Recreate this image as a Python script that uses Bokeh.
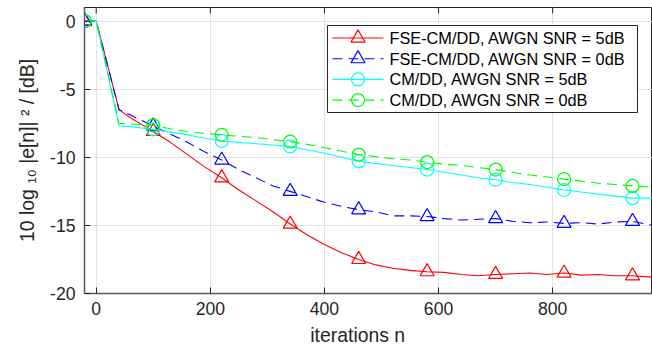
from bokeh.plotting import figure
from bokeh.models import Range1d, FixedTicker
from bokeh.core.properties import value
from bokeh.embed import file_html
from bokeh.resources import INLINE

# iteration index
n = [-20, 0, 40, 60, 80, 100, 130, 160, 190, 220, 250, 280, 310, 340, 370, 400,
     430, 460, 490, 520, 550, 580, 610, 640, 670, 700, 730, 760, 790, 820, 850,
     880, 910, 940, 975]

fse_5db = [0, 0, -6.5, -7.1, -7.6, -8.1, -8.9, -9.8, -10.7, -11.5, -12.4, -13.2,
           -14.0, -14.9, -15.7, -16.4, -17.0, -17.5, -17.9, -18.15, -18.3, -18.4,
           -18.45, -18.6, -18.7, -18.6, -18.55, -18.5, -18.6, -18.5, -18.65,
           -18.6, -18.7, -18.7, -18.8]
fse_0db = [0, 0, -6.5, -6.9, -7.3, -7.7, -8.3, -8.9, -9.6, -10.2, -10.9, -11.5,
           -12.1, -12.5, -12.9, -13.3, -13.6, -13.85, -14.0, -14.3, -14.3,
           -14.35, -14.5, -14.6, -14.55, -14.5, -14.7, -14.8, -14.75, -14.85,
           -14.8, -14.9, -14.75, -14.7, -15.0]
cm_5db = [0, 0, -7.7, -7.75, -7.85, -7.95, -8.15, -8.35, -8.6, -8.8, -8.9, -9.0,
          -9.1, -9.2, -9.45, -9.7, -10.0, -10.3, -10.45, -10.6, -10.75, -10.9,
          -11.1, -11.3, -11.5, -11.65, -11.85, -12.0, -12.2, -12.4, -12.55,
          -12.7, -12.85, -13.0, -13.0]
cm_0db = [0, 0, -7.5, -7.55, -7.6, -7.65, -7.9, -8.1, -8.25, -8.35, -8.45, -8.55,
          -8.7, -8.85, -9.05, -9.3, -9.55, -9.8, -9.95, -10.1, -10.2, -10.35,
          -10.5, -10.6, -10.75, -10.9, -11.1, -11.3, -11.45, -11.6, -11.75,
          -11.9, -12.0, -12.1, -12.2]

marker_n = [-20, 100, 220, 340, 460, 580, 700, 820, 940]

series_labels = ["FSE-CM/DD, AWGN SNR = 5dB", "FSE-CM/DD, AWGN SNR = 0dB",
                 "CM/DD, AWGN SNR = 5dB", "CM/DD, AWGN SNR = 0dB"]
x_ticks = [0, 200, 400, 600, 800]
y_ticks = [-20, -15, -10, -5, 0]
y_tick_labels = ["-20", "-15", "-10", "-5", "0"]

FONT = "Liberation Sans"
TXT = "#262626"
X0, X1 = -20.5, 975
Y0, Y1 = -20, 1

# frame geometry (pixels) used to place the legend box
W, H = 652, 350
FL, FR, FT, FB = 84, 652, 7, 293


def dx(px):
    return X0 + (px - FL) * (X1 - X0) / (FR - FL)


def dy(py):
    return Y1 - (py - FT) * (Y1 - Y0) / (FB - FT)


p = figure(width=W, height=H, x_range=Range1d(X0, X1),
           y_range=Range1d(Y0, Y1), output_backend="svg", toolbar_location=None,
           min_border_left=FL, min_border_right=W - FR, min_border_top=FT,
           min_border_bottom=H - FB)
p.background_fill_color = "white"
p.border_fill_color = "white"
p.outline_line_color = "#262626"
p.outline_line_width = 1

# top-edge inward ticks (box style)
p.segment(x0=x_ticks, y0=[Y1] * len(x_ticks), x1=x_ticks,
          y1=[dy(FT + 6)] * len(x_ticks), line_color="#262626", line_width=1)

styles = [
    (fse_5db, "#ff0000", "solid", "triangle", 14),
    (fse_0db, "#0000ff", "10 6", "triangle", 14),
    (cm_5db, "#00ffff", "solid", "circle", 13),
    (cm_0db, "#00ff00", "10 6", "circle", 13),
]
for (vals, col, dash, mk, sz) in styles:
    lookup = dict(zip(n, vals))
    my = [lookup[m] for m in marker_n]
    p.line(n, vals, line_color=col, line_width=1.1, line_dash=dash)
    p.scatter(marker_n, my, marker=mk, size=sz, line_color=col,
              line_width=1.2, fill_color=None)

# legend (MATLAB style box)
LG_L, LG_R, LG_T, LG_B = 327, 637, 25, 112
p.quad(left=[dx(LG_L)], right=[dx(LG_R)], top=[dy(LG_T)], bottom=[dy(LG_B)],
       fill_color="white", line_color="#262626", line_width=1)
for i, ((vals, col, dash, mk, sz), lab) in enumerate(zip(styles, series_labels)):
    ry = dy(LG_T + 12.5 + i * 20.7)
    p.line([dx(332), dx(383)], [ry, ry], line_color=col, line_width=1.1,
           line_dash=dash)
    p.scatter([dx(357.5)], [ry], marker=mk, size=sz, line_color=col,
              line_width=1.2, fill_color=None)
    p.text([dx(389)], [ry], text=[lab], text_font=value(FONT),
           text_font_size="16.3px", text_color="#000000",
           text_baseline="middle", text_align="left")

# axes
for ax in (p.xaxis[0], p.yaxis[0]):
    ax.axis_line_color = "#5a5a5a"
    ax.axis_line_width = 1.5
    ax.major_tick_line_color = "#262626"
    ax.major_tick_in = 6
    ax.major_tick_out = 0
    ax.minor_tick_line_color = None
    ax.major_label_text_font = FONT
    ax.major_label_text_font_size = "17.6px"
    ax.major_label_text_color = TXT
    ax.axis_label_text_font = FONT
    ax.axis_label_text_font_size = "19.4px"
    ax.axis_label_text_font_style = "normal"
    ax.axis_label_text_color = TXT

p.xaxis.ticker = FixedTicker(ticks=x_ticks)
p.yaxis.ticker = FixedTicker(ticks=y_ticks)
p.yaxis.major_label_overrides = dict(zip(y_ticks, y_tick_labels))
p.xaxis.axis_label = "iterations n\u00a0\u00a0\u00a0\u00a0"
p.yaxis.axis_label = "10 log \u2081\u2080 |e[n]| \u00b2 / [dB]"
p.xaxis.major_label_standoff = 8
p.yaxis.major_label_standoff = 9
p.xaxis.axis_label_standoff = 6
p.yaxis.axis_label_standoff = 9

p.xgrid.ticker = FixedTicker(ticks=x_ticks)
p.ygrid.ticker = FixedTicker(ticks=y_ticks)
p.grid.grid_line_color = "#e3e3e3"
p.grid.grid_line_width = 1

open("out.html", "w").write(file_html(p, INLINE))
